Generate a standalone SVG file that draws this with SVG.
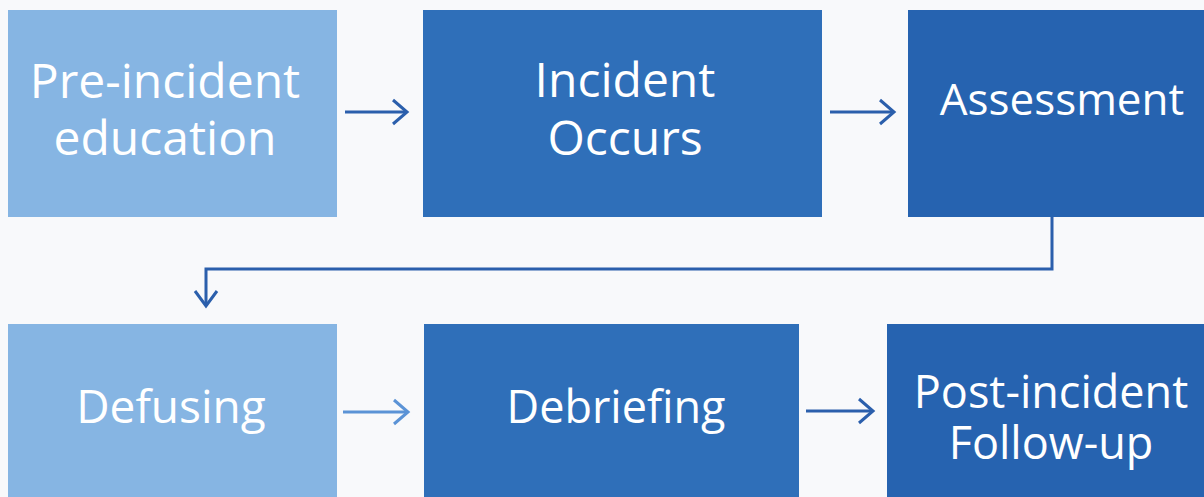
<svg xmlns="http://www.w3.org/2000/svg" width="1204" height="497" viewBox="0 0 1204 497">
  <style>
    .light { fill: #86b5e3; }
    .mid { fill: #2f6fb9; }
    .dark { fill: #2663b0; }
    .label { font-family: "Open Sans", "Noto Sans", sans-serif; font-size: 44px; fill: #ffffff; text-anchor: middle; }
    .xl { font-size: 48px; }
    .lg { font-size: 46px; }
    .md { font-size: 45px; }
    .conn { fill: none; stroke: #2b5fac; stroke-width: 3; }
    .conn.soft { stroke: #5b93d6; }
    .head { fill: none; stroke: #2b5fac; stroke-width: 3; stroke-linejoin: miter; }
    .head.soft { stroke: #5b93d6; }
  </style>
  <rect width="1204" height="497" fill="#f8f9fb"/>

  <g id="node-pre-incident">
    <rect class="light" x="8" y="10" width="329" height="207"/>
    <text class="label xl" x="165" y="98">Pre-incident<tspan x="165" dy="57">education</tspan></text>
  </g>
  <g id="node-incident-occurs">
    <rect class="mid" x="423" y="10" width="399" height="207"/>
    <text class="label xl" x="625" y="97">Incident<tspan x="625" dy="58">Occurs</tspan></text>
  </g>
  <g id="node-assessment">
    <rect class="dark" x="908" y="10" width="296" height="207"/>
    <text class="label" x="1062" y="115">Assessment</text>
  </g>
  <g id="node-defusing">
    <rect class="light" x="8" y="324" width="329" height="173"/>
    <text class="label lg" x="171" y="423">Defusing</text>
  </g>
  <g id="node-debriefing">
    <rect class="mid" x="424" y="324" width="375" height="173"/>
    <text class="label md" x="616" y="423">Debriefing</text>
  </g>
  <g id="node-post-incident">
    <rect class="dark" x="887" y="324" width="317" height="173"/>
    <text class="label md" x="1051" y="408">Post-incident<tspan x="1051" dy="51">Follow-up</tspan></text>
  </g>

  <g id="connectors">
    <line class="conn" x1="345" y1="112" x2="407" y2="112"/>
    <polyline class="head" points="393,100 407,112 393,124"/>

    <line class="conn" x1="830" y1="112" x2="894" y2="112"/>
    <polyline class="head" points="880,100 894,112 880,124"/>

    <polyline class="conn" points="1052,217 1052,269 206,269 206,306"/>
    <polyline class="head" points="195,291 206,306 217,291"/>

    <line class="conn soft" x1="343" y1="412" x2="408" y2="412"/>
    <polyline class="head soft" points="394,400 408,412 394,424"/>

    <line class="conn" x1="806" y1="411" x2="873" y2="411"/>
    <polyline class="head" points="859,399 873,411 859,423"/>
  </g>
</svg>
